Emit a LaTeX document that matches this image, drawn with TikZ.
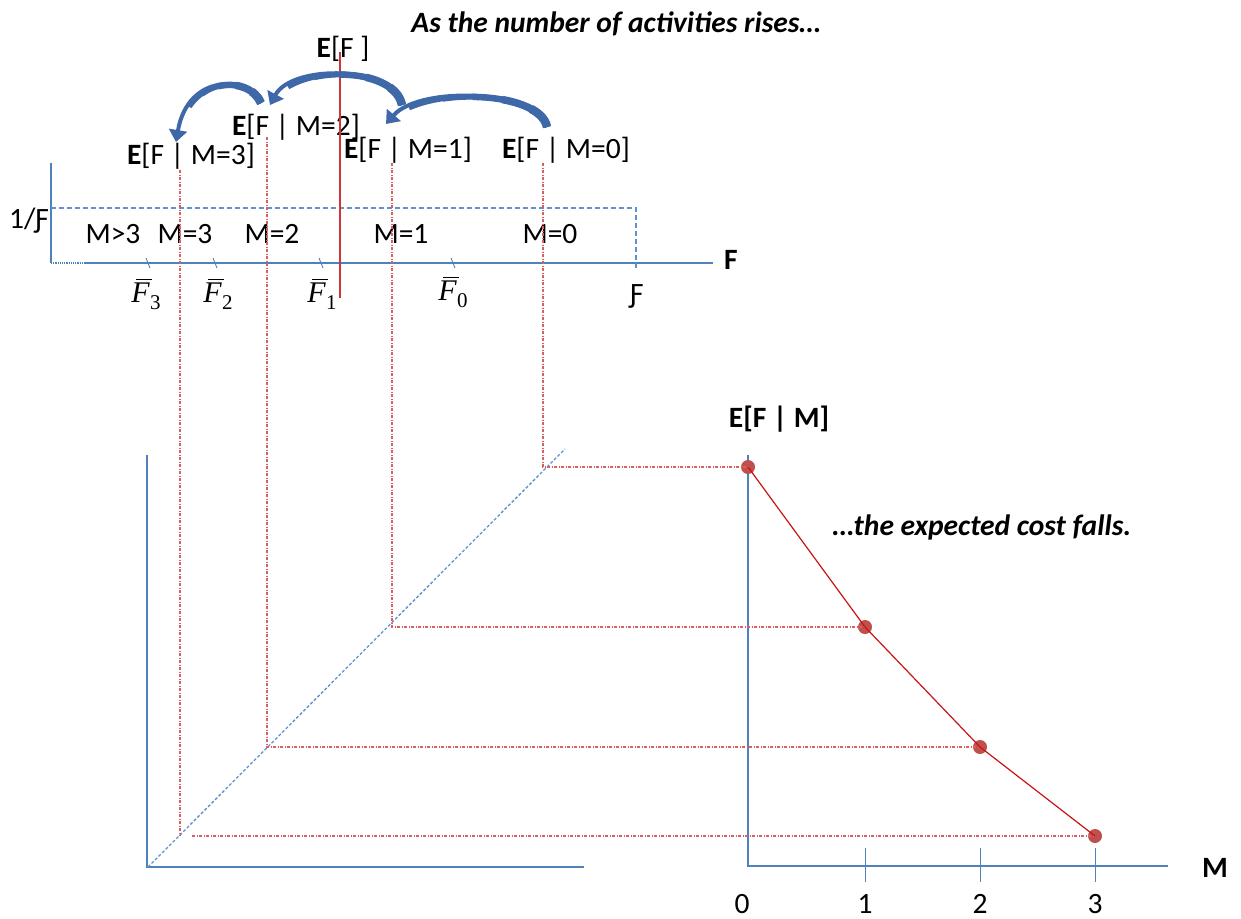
\documentclass[tikz,border=0pt]{standalone}
\usepackage{fontspec}
\setmainfont{Carlito}
\newfontfamily\fbarfont{Liberation Serif}
\usetikzlibrary{arrows.meta}
\definecolor{axisblue}{RGB}{79,129,189}
\definecolor{dashcol}{RGB}{95,145,205}
\definecolor{arrowblue}{RGB}{62,104,168}
\definecolor{guide}{RGB}{220,95,95}
\definecolor{dotred}{RGB}{192,80,77}
\definecolor{linered}{RGB}{200,20,20}
\definecolor{efred}{RGB}{205,55,55}
\newcommand{\fbarlabel}[1]{{\fbarfont\rlap{\hspace{0.16em}\rule[0.74em]{0.52em}{0.05em}}\itshape F\kern0.02em\raisebox{-0.22em}{\fontsize{21}{21}\selectfont\upshape #1}}}
\begin{document}
\begin{tikzpicture}[x=1pt,y=-1pt,
  axis/.style={axisblue, line width=1.2pt},
  tickmark/.style={axisblue, line width=0.9pt},
  guideline/.style={guide, line width=1.2pt, dash pattern=on 3pt off 1.5pt on 1pt off 1.5pt},
  dashblue/.style={dashcol, line width=1.2pt, dash pattern=on 5pt off 3pt},
  dashdiag/.style={dashcol, line width=1.3pt, dash pattern=on 3pt off 2pt},
  lbl/.style={font=\fontsize{29.5}{34}\selectfont, inner sep=0pt},
  blbl/.style={font=\fontsize{29.5}{34}\selectfont\bfseries, inner sep=0pt},
  bilbl/.style={font=\fontsize{29.5}{34}\selectfont\bfseries\itshape, inner sep=0pt},
  mlbl/.style={font=\fontsize{30}{32}\selectfont, inner sep=0pt},
  arrbody/.style={arrowblue, line width=#1, line cap=butt},
  tailpart/.style={dash pattern=on #1 off 2000pt},
  dot/.style={circle, fill=dotred, inner sep=0pt, minimum size=14pt}]
\useasboundingbox (0,0) rectangle (1241,918);

% title
\node[bilbl, anchor=base] (title) at (616,32) {As the number of activities rises…};

% top plot axes
\draw[axis] (51,163) -- (51,263);
\draw[axis, densely dotted] (51,263) -- (85,263);
\draw[axis] (85,263) -- (713,263);
\node[blbl, anchor=base] (faxis) at (731,269) {F};
\node[lbl, anchor=base] (oneover) at (29,228) {1/Ƒ};
\draw[dashblue] (51,208) -- (636,208) -- (636,268);
\node[lbl] (fmax) at (637,296) {Ƒ};

% ticks and F-bar labels
\draw[tickmark] (146,258) -- (150,268);
\draw[tickmark] (213,258) -- (217,268);
\draw[tickmark] (319,258) -- (323,268);
\draw[tickmark] (451,258) -- (455,268);
\node[mlbl] (fb3) at (146,294) {\fbarlabel{3}};
\node[mlbl] (fb2) at (218,294) {\fbarlabel{2}};
\node[mlbl] (fb1) at (322,294) {\fbarlabel{1}};
\node[mlbl] (fb0) at (453,292) {\fbarlabel{0}};

% region labels
\node[lbl, anchor=base] (r4) at (113,243) {M>3};
\node[lbl, anchor=base] (r3) at (185,243) {M=3};
\node[lbl, anchor=base] (r2) at (272,243) {M=2};
\node[lbl, anchor=base] (r1) at (401,243) {M=1};
\node[lbl, anchor=base] (r0) at (550,243) {M=0};

% expected value labels
\node[lbl, anchor=base] (ef) at (343,57) {\textbf{E}[F ]};
\node[lbl, anchor=base] (em2) at (296,135) {\textbf{E}[F | M=2]};
\node[lbl, anchor=base] (em3) at (191,164) {\textbf{E}[F | M=3]};
\node[lbl, anchor=base] (em1) at (408,158) {\textbf{E}[F | M=1]};
\node[lbl, anchor=base] (em0) at (566,158) {\textbf{E}[F | M=0]};

% E[F] line
\draw[efred, line width=2pt] (340,52) -- (340,298);

% curved arrows (tapered: thick tail, thinner body, large head)
\foreach \w/\l in {8.5pt/25pt, 7.5pt/55pt, 6.5pt/85pt, 5.5pt/115pt, 4.5pt/150pt}
  \draw[arrbody=\w, tailpart=\l] (547,127) .. controls (540,90) and (420,85) .. (386,124);
\draw[arrbody=4pt, -{Triangle[width=18pt,length=12pt]}] (547,127) .. controls (540,90) and (420,85) .. (386,124);

\foreach \w/\l in {8.5pt/22pt, 7.5pt/48pt, 6.5pt/74pt, 5.5pt/100pt, 4.5pt/128pt}
  \draw[arrbody=\w, tailpart=\l] (402,105) .. controls (394,65) and (292,64) .. (270,105);
\draw[arrbody=4pt, -{Triangle[width=18pt,length=12pt]}] (402,105) .. controls (394,65) and (292,64) .. (270,105);

\foreach \w/\l in {8.5pt/15pt, 7.5pt/32pt, 6.5pt/50pt, 5.5pt/68pt, 4.5pt/86pt}
  \draw[arrbody=\w, tailpart=\l] (261,103) .. controls (250,76) and (188,72) .. (176,142);
\draw[arrbody=4pt, -{Triangle[width=18pt,length=12pt]}] (261,103) .. controls (250,76) and (188,72) .. (176,142);

% lower-left axes
\draw[axis] (147,455) -- (147,867) -- (584,867);
\draw[dashdiag] (148,867) -- (565,449);

% right plot
\draw[axis] (748,455) -- (748,866) -- (1168,866);
\foreach \x in {865,980,1095} \draw[tickmark] (\x,848) -- (\x,882);
\node[lbl, anchor=base] (m0) at (742,913) {0};
\node[lbl, anchor=base] (m1) at (865,913) {1};
\node[lbl, anchor=base] (m2) at (980,913) {2};
\node[lbl, anchor=base] (m3) at (1095,913) {3};
\node[blbl] (maxis) at (1215,868) {M};
\node[blbl, anchor=base] (efm) at (779,427) {E[F | M]};
\node[bilbl, anchor=base] (falls) at (982,535) {…the expected cost falls.};

\node[dot] (d0) at (748,467) {};
\node[dot] (d1) at (865,627) {};
\node[dot] (d2) at (980,747) {};
\node[dot] (d3) at (1095,836) {};

% guides
\draw[guideline] (180,170) -- (180,836);
\draw[guideline] (192,836) -- (d3.center);
\draw[guideline] (267,137) -- (267,747) -- (d2.center);
\draw[guideline] (392,163) -- (392,627) -- (d1.center);
\draw[guideline] (543,163) -- (543,467) -- (d0.center);

\draw[linered, line width=1.2pt] (d0.center) -- (d1.center) -- (d2.center) -- (d3.center);
\end{tikzpicture}
\end{document}
